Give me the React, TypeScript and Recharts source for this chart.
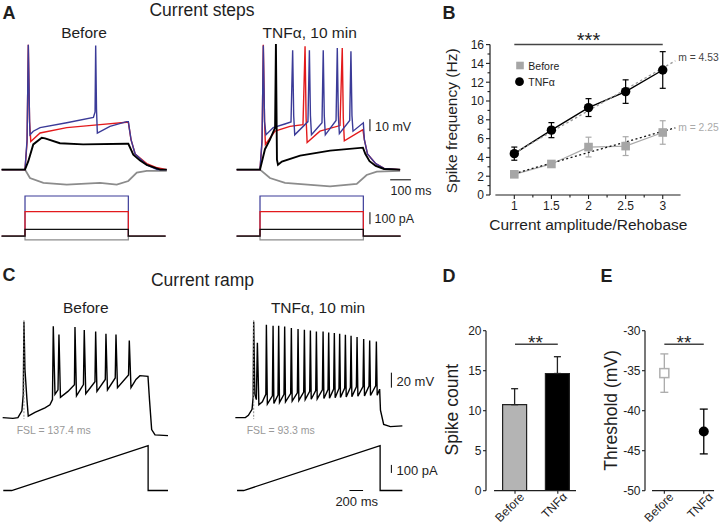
import React from 'react';
import {
  LineChart, Line, XAxis, YAxis, ComposedChart, Bar, Cell, ErrorBar,
  ReferenceLine, ScatterChart, Scatter,
} from 'recharts';

const FONT = "'Liberation Sans', Arial, Helvetica, sans-serif";
const INK = '#1e1e1e';
const BLUE = '#3b3b98';
const RED = '#e31a1c';
const GRAY = '#8c8c8c';

type P = [number, number][];

// ---------- Panel A: current steps (t in ms, v in mV, i in pA) ----------
const stepBeforeGray: P = [[-113,-65],[0,-65],[24,-72],[89,-76],[202,-77.5],[363,-76],[444,-77.5],[500,-74.5],[541,-67.5],[589,-66],[686,-66]];
const stepBeforeRed: P = [[-113,-65],[0,-65],[10,-42],[16,39],[22,-25],[28,-41.5],[73,-34.5],[202,-30],[363,-27.5],[492,-25.5],[500,-25.5],[513,-40],[533,-52],[589,-60],[640,-63.5],[686,-65]];
const stepBeforeBlue: P = [[-113,-65],[0,-65],[10,-40],[16,39],[22,-23],[24,-36],[40,-33],[73,-30],[202,-26],[331,-21.5],[339,-17],[342,38.5],[346,-15],[350,-34.5],[411,-29],[492,-25],[500,-25],[513,-40],[533,-52],[589,-61],[639,-65],[686,-65]];
const stepBeforeBlack: P = [[-113,-65],[0,-65],[16,-58],[40,-44],[81,-38.5],[97,-39],[169,-43],[281,-44],[492,-43.5],[500,-43.5],[524,-52.5],[557,-57.5],[589,-61],[654,-65],[686,-65]];

const stepTnfGray: P = [[-113,-65],[0,-65],[48,-72],[121,-76],[339,-79],[468,-77],[516,-69.5],[565,-66.7],[678,-66]];
const stepTnfRed: P = [[-113,-65],[0,-65],[10,-42],[16,39],[22,-25],[26,-44],[73,-33],[145,-29],[208,-27.5],[218,37.7],[223,-22],[228,-42.5],[290,-33],[387,-28.3],[398,36.4],[403,-22],[408,-41],[498,-31.7],[505,-40],[520,-52],[560,-60],[600,-64],[678,-65]];
const stepTnfBlue: P = [[-113,-65],[0,-65],[10,-40],[16,38.5],[22,-25],[29,-36],[64,-30],[120,-27],[150,-25.3],[158,34.4],[163,-20],[168,-36],[232,-25],[239,34.4],[244,-20],[249,-36],[300,-26],[306,34.4],[311,-20],[316,-36],[368,-24],[374,36.4],[379,-20],[384,-35],[434,-24],[440,33.6],[445,-20],[450,-33],[500,-26],[505,-40],[520,-52],[560,-60],[600,-64],[678,-65]];
const stepTnfBlack: P = [[-113,-65],[0,-65],[24,-48],[48,-40],[73,-30],[77,39.7],[82,-56.7],[87,-61],[106,-58.3],[194,-53.3],[339,-49.2],[498,-46.7],[510,-52],[530,-58],[560,-62],[600,-64.5],[678,-65]];

const stimGray: P = [[-113,0],[0,0],[0,-30],[500,-30],[500,0],[680,0]];
const stimBlack: P = [[-113,0],[0,0],[0,57],[500,57],[500,0],[680,0]];
const stimRed: P = [[-113,0],[0,0],[0,205],[500,205],[500,0],[680,0]];
const stimBlue: P = [[-113,0],[0,0],[0,335],[500,335],[500,0],[680,0]];

const barA10mV: P = [[532,-33],[532,-23]];
const barA100ms: P = [[630,-73.5],[730,-73.5]];
const barA100pA: P = [[532,100],[532,200]];

// ---------- Panel C: current ramp ----------
const rampBeforeV: P = [[-132,-70],[19,-71],[92,-70],[150,-61],[170,-39],[180,58],[195,-6],[224,-46],[243,-68],[341,-63],[488,-57],[561,-53],[598,-46],[610,52],[635,-39],[679,-33],[693,41],[715,-43],[825,-35],[920,-26],[928,51],[950,-41],[1052,-26],[1064,47],[1086,-38],[1221,-22],[1231,45],[1250,-35],[1372,-19],[1382,42],[1404,-33],[1518,-17],[1529,41],[1551,-30],[1713,-13],[1724,33],[1749,-30],[1822,-19],[1880,-14],[1998,-15],[2020,-46],[2052,-86],[2101,-93],[2291,-94]];
const rampTnfV: P = [[-122,-70],[25,-70],[69,-67],[123,-59],[139,-43],[147,58],[164,-39],[186,-46],[201,30],[223,-53],[274,-49],[325,-39],[333,54],[347,-52],
  [421,-41],[431,52.7],[443,-51],[503,-40],[513,52.7],[525,-50],[591,-39],[601,51.7],[613,-49],[689,-38],[699,49.6],[711,-48],[787,-37],[797,48.3],[809,-47],
  [880,-36],[890,47.3],[902,-46],[968,-35],[978,46.4],[990,-45.5],[1056,-34],[1066,45],[1078,-45],[1154,-33],[1164,45],[1176,-44.5],[1236,-32.5],[1246,43.7],[1258,-44],
  [1319,-32],[1329,42.9],[1341,-43.5],[1397,-31],[1407,42],[1419,-43],[1481,-30.5],[1491,40.7],[1503,-42.5],[1564,-30],[1574,39.3],[1586,-42],[1652,-29],[1662,37.6],[1674,-41.5],
  [1749,-28.5],[1759,34.9],[1771,-41],[1837,-28],[1847,33],[1859,-40.5],[1935,-27.5],[1945,31.7],[1957,-40],[1993,-32],[2005,-60],[2052,-79],[2150,-82],[2326,-81]];
const rampBeforeI: P = [[-123,0],[0,0],[2000,560],[2000,0],[2291,0]];
const rampTnfI: P = [[-97,0],[0,0],[2000,560],[2000,0],[2326,0]];
const fslBefore: P = [[180,60],[180,-72]];
const fslTnf: P = [[147,60],[147,-72]];
const barC20mV: P = [[2165,-30],[2165,-10]];
const barC100pA: P = [[2165,220],[2165,320]];
const barC200ms: P = [[1550,0],[1750,0]];

// ---------- Panel B ----------
const stepRatio = [1, 1.5, 2, 2.5, 3];
const freqBefore = [2.2, 3.3, 5.1, 5.2, 6.65];
const freqBeforeSem = [0.15, 0.3, 1.05, 1.0, 1.25];
const freqTnf = [4.4, 6.9, 9.3, 11.0, 13.3];
const freqTnfSem = [0.7, 0.8, 0.95, 1.25, 1.95];
const fitTnf: P = [[1, 4.45], [3.17, 14.28]];
const fitBefore: P = [[1, 2.27], [3.17, 7.15]];
const xTicksB = [1, 1.25, 1.5, 1.75, 2, 2.25, 2.5, 2.75, 3];
const yTicksB = [0, 1, 2, 3, 4, 5, 6, 7, 8, 9, 10, 11, 12, 13, 14, 15, 16];

// ---------- Panels D, E ----------
const groups = ['Before', 'TNFα'];
const spikeCount = [10.75, 14.65];
const spikeCountSem = [2.0, 2.1];
const yTicksD = [0, 5, 10, 15, 20];
const threshold = [-35.3, -42.6];
const thresholdSem = [2.4, 2.8];
const yTicksE = [-50, -45, -40, -35, -30];

const toPts = (p: P) => p.map(([t, y]) => ({ t, y }));

type Tr = { pts: P; color: string; w: number; axis: 'v' | 'i'; dash?: string };

function TraceChart(props: { left: number; top: number; width: number; height: number; xDom: [number, number]; vDom: [number, number]; iDom: [number, number]; traces: Tr[] }) {
  const { left, top, width, height, xDom, vDom, iDom, traces } = props;
  return (
    <div style={{ position: 'absolute', left, top }}>
      <LineChart width={width} height={height} margin={{ top: 0, right: 0, bottom: 0, left: 0 }}>
        <XAxis type="number" dataKey="t" domain={xDom} hide allowDataOverflow height={0} />
        <YAxis yAxisId="v" type="number" domain={vDom} hide allowDataOverflow width={0} />
        <YAxis yAxisId="i" type="number" domain={iDom} hide allowDataOverflow width={0} />
        {traces.map((tr, k) => (
          <Line key={k} yAxisId={tr.axis} data={toPts(tr.pts)} dataKey="y" type="linear" stroke={tr.color}
            strokeWidth={tr.w} strokeDasharray={tr.dash} dot={false} isAnimationActive={false} />
        ))}
      </LineChart>
    </div>
  );
}

function yTick(major: (v: number) => boolean, len: number, minorLen: number, gap: number) {
  return (p: any) => {
    const v = p.payload.value;
    const m = major(v);
    return (
      <g>
        <line x1={p.x} x2={p.x - (m ? len : minorLen)} y1={p.y} y2={p.y} stroke={INK} strokeWidth={1.1} />
        {m && (
          <text x={p.x - gap} y={p.y} dy="0.36em" textAnchor="end" fontSize={12} fontFamily={FONT} fill={INK}>{String(v)}</text>
        )}
      </g>
    );
  };
}

function xTickB(p: any) {
  const v = p.payload.value;
  const m = Math.abs(v * 2 - Math.round(v * 2)) < 1e-6;
  return (
    <g>
      <line x1={p.x} x2={p.x} y1={p.y} y2={p.y + (m ? 4 : 2.5)} stroke={INK} strokeWidth={1.1} />
      {m && <text x={p.x} y={p.y + 14.5} textAnchor="middle" fontSize={12} fontFamily={FONT} fill={INK}>{String(v)}</text>}
    </g>
  );
}

function xTickCat(p: any) {
  const label = groups[Math.round(p.payload.value)] ?? '';
  return (
    <g>
      <line x1={p.x} x2={p.x} y1={p.y} y2={p.y + 3} stroke={INK} strokeWidth={1.1} />
      <text transform={`translate(${p.x + 10},${p.y + 7})`} textAnchor="end" fontSize={12} fontFamily={FONT} fill={INK}>
        <tspan transform="rotate(-45)">{label}</tspan>
      </text>
    </g>
  );
}

function xTickCatRot(p: any) {
  const label = groups[Math.round(p.payload.value)] ?? '';
  return (
    <g>
      <line x1={p.x} x2={p.x} y1={p.y} y2={p.y + 3} stroke={INK} strokeWidth={1.1} />
      <g transform={`translate(${p.x + 10},${p.y + 7}) rotate(-45)`}>
        <text x={0} y={0} textAnchor="end" fontSize={12} fontFamily={FONT} fill={INK}>{label}</text>
      </g>
    </g>
  );
}

type Tx = { s: string; x: number; y: number; fs: number; a?: 'start' | 'middle' | 'end'; fw?: string; fill?: string; rot?: number };
const texts: Tx[] = [
  { s: 'A', x: 2.5, y: 18.5, fs: 18, fw: 'bold' },
  { s: 'Current steps', x: 202, y: 16, fs: 17.5, a: 'middle' },
  { s: 'Before', x: 84, y: 37.5, fs: 15.5, a: 'middle' },
  { s: 'TNFα, 10 min', x: 309.7, y: 37.5, fs: 15.5, a: 'middle' },
  { s: '10 mV', x: 375, y: 130.5, fs: 12.5 },
  { s: '100 ms', x: 411, y: 194.5, fs: 12.5, a: 'middle' },
  { s: '100 pA', x: 374.5, y: 222.5, fs: 12.5 },
  { s: 'B', x: 442.5, y: 18.5, fs: 18, fw: 'bold' },
  { s: '***', x: 588.5, y: 46.5, fs: 20, a: 'middle' },
  { s: 'Before', x: 528.3, y: 69.5, fs: 10.5 },
  { s: 'TNFα', x: 528.3, y: 85.5, fs: 10.5 },
  { s: 'm = 4.53', x: 678.3, y: 60.7, fs: 10.3, fill: '#444' },
  { s: 'm = 2.25', x: 678.3, y: 131, fs: 10.3, fill: '#aaa' },
  { s: 'Spike frequency (Hz)', x: 457, y: 120.8, fs: 15.5, a: 'middle', rot: -90 },
  { s: 'Current amplitude/Rehobase', x: 588.3, y: 229.5, fs: 15.5, a: 'middle' },
  { s: 'C', x: 2.5, y: 281, fs: 18, fw: 'bold' },
  { s: 'Current ramp', x: 202.5, y: 285.5, fs: 17.5, a: 'middle' },
  { s: 'Before', x: 85.8, y: 313, fs: 15.5, a: 'middle' },
  { s: 'TNFα, 10 min', x: 318, y: 313, fs: 15.5, a: 'middle' },
  { s: 'FSL = 137.4 ms', x: 16.7, y: 433.5, fs: 10.5, fill: '#999' },
  { s: 'FSL = 93.3 ms', x: 246.7, y: 433.5, fs: 10.5, fill: '#999' },
  { s: '20 mV', x: 396.5, y: 385.6, fs: 13 },
  { s: '100 pA', x: 396.5, y: 474.5, fs: 13 },
  { s: '200 ms', x: 356.7, y: 506, fs: 13, a: 'middle' },
  { s: 'D', x: 442.5, y: 281.5, fs: 18, fw: 'bold' },
  { s: 'E', x: 600.5, y: 281.5, fs: 18, fw: 'bold' },
  { s: '**', x: 535.5, y: 349, fs: 19, a: 'middle' },
  { s: '**', x: 684, y: 349, fs: 19, a: 'middle' },
  { s: 'Spike count', x: 457.5, y: 409.7, fs: 17.5, a: 'middle', rot: -90 },
  { s: 'Threshold (mV)', x: 617, y: 410.5, fs: 17.5, a: 'middle', rot: -90 },
];

export default function App() {
  const rowsB = stepRatio.map((x, i) => ({ x, b: freqBefore[i], be: freqBeforeSem[i], n: freqTnf[i], ne: freqTnfSem[i] }));
  const rowsD = groups.map((g, i) => ({ x: i, name: g, v: spikeCount[i], e: [0, spikeCountSem[i]] }));
  const rowsE0 = [{ x: 0, y: threshold[0], e: thresholdSem[0] }];
  const rowsE1 = [{ x: 1, y: threshold[1], e: thresholdSem[1] }];

  const stepDom = { xDom: [-121, 750] as [number, number], vDom: [-132, 43] as [number, number], iDom: [-115, 1635] as [number, number] };
  const rampDom = { xDom: [-171, 2350] as [number, number], vDom: [-180, 67] as [number, number], iDom: [-118.5, 2194] as [number, number] };
  const stim: Tr[] = [
    { pts: stimBlue, color: BLUE, w: 1.2, axis: 'i' },
    { pts: stimRed, color: RED, w: 1.2, axis: 'i' },
    { pts: stimGray, color: GRAY, w: 1.2, axis: 'i' },
    { pts: stimBlack, color: '#111', w: 1.2, axis: 'i' },
  ];

  return (
    <div style={{ position: 'absolute', left: 0, top: 0, width: 720, height: 524, background: '#fff', overflow: 'hidden', fontFamily: FONT }}>
      {/* Panel A */}
      <TraceChart left={0} top={40} width={180} height={210} {...stepDom} traces={[
        { pts: stepBeforeGray, color: GRAY, w: 1.8, axis: 'v' },
        { pts: stepBeforeRed, color: RED, w: 1.4, axis: 'v' },
        { pts: stepBeforeBlue, color: BLUE, w: 1.4, axis: 'v' },
        { pts: stepBeforeBlack, color: '#000', w: 1.9, axis: 'v' },
        ...stim,
      ]} />
      <TraceChart left={235} top={40} width={180} height={210} {...stepDom} traces={[
        { pts: stepTnfGray, color: GRAY, w: 1.8, axis: 'v' },
        { pts: stepTnfRed, color: RED, w: 1.4, axis: 'v' },
        { pts: stepTnfBlue, color: BLUE, w: 1.4, axis: 'v' },
        { pts: stepTnfBlack, color: '#000', w: 1.9, axis: 'v' },
        ...stim,
        { pts: barA10mV, color: '#000', w: 1, axis: 'v' },
        { pts: barA100ms, color: '#000', w: 1, axis: 'v' },
        { pts: barA100pA, color: '#000', w: 1, axis: 'i' },
      ]} />

      {/* Panel C */}
      <TraceChart left={0} top={315} width={172} height={185} {...rampDom} traces={[
        { pts: rampBeforeV, color: '#000', w: 1.4, axis: 'v' },
        { pts: fslBefore, color: '#888', w: 1, axis: 'v', dash: '2 1.5' },
        { pts: rampBeforeI, color: '#000', w: 1.3, axis: 'i' },
      ]} />
      <TraceChart left={231.6} top={315} width={172} height={185} {...rampDom} traces={[
        { pts: rampTnfV, color: '#000', w: 1.4, axis: 'v' },
        { pts: fslTnf, color: '#888', w: 1, axis: 'v', dash: '2 1.5' },
        { pts: rampTnfI, color: '#000', w: 1.3, axis: 'i' },
        { pts: barC20mV, color: '#000', w: 1, axis: 'v' },
        { pts: barC100pA, color: '#000', w: 1, axis: 'i' },
        { pts: barC200ms, color: '#000', w: 1, axis: 'i' },
      ]} />

      {/* Panel B */}
      <div style={{ position: 'absolute', left: 440, top: 0 }}>
        <ComposedChart width={243} height={225} data={rowsB} margin={{ top: 44.6, right: 0, bottom: 0, left: 0 }}>
          <XAxis type="number" dataKey="x" domain={[0.6725, 3.273]} allowDataOverflow ticks={xTicksB} interval={0}
            axisLine={false} tickLine={false} tickSize={0} tickMargin={0} height={30} tick={xTickB} />
          <YAxis type="number" domain={[0, 16]} allowDataOverflow ticks={yTicksB} interval={0} width={50}
            axisLine={{ stroke: INK, strokeWidth: 1.2 }} tickLine={false} tickSize={0} tickMargin={0}
            tick={yTick((v) => v % 2 === 0, 4, 2.5, 6)} />
          <ReferenceLine segment={[{ x: 0.745, y: 0 }, { x: 3.24, y: 0 }]} stroke={INK} strokeWidth={1.2} />
          <ReferenceLine segment={[{ x: 1, y: 16 }, { x: 3, y: 16 }]} stroke="#444" strokeWidth={1.5} />
          <Line dataKey="b" type="linear" stroke="#aaa" strokeWidth={1.3} dot={false} isAnimationActive={false}>
            <ErrorBar dataKey="be" direction="y" width={3} stroke="#aaa" strokeWidth={1.2} />
          </Line>
          <Line dataKey="n" type="linear" stroke="#000" strokeWidth={1.4} dot={false} isAnimationActive={false}>
            <ErrorBar dataKey="ne" direction="y" width={3} stroke="#000" strokeWidth={1.2} />
          </Line>
          <Line data={fitTnf.map(([x, y]) => ({ x, f: y }))} dataKey="f" type="linear" stroke="#999" strokeWidth={1.3}
            strokeDasharray="2.5 2.5" dot={false} isAnimationActive={false} />
          <Line data={fitBefore.map(([x, y]) => ({ x, f: y }))} dataKey="f" type="linear" stroke="#111" strokeWidth={1.3}
            strokeDasharray="2 2.5" dot={false} isAnimationActive={false} />
          <Line dataKey="b" type="linear" stroke="none" isAnimationActive={false}
            dot={(p: any) => <rect key={`b${p.index}`} x={p.cx - 4.3} y={p.cy - 4.3} width={8.6} height={8.6} fill="#a6a6a6" />} />
          <Line dataKey="n" type="linear" stroke="none" isAnimationActive={false}
            dot={(p: any) => <circle key={`n${p.index}`} cx={p.cx} cy={p.cy} r={4.7} fill="#000" />} />
        </ComposedChart>
      </div>

      {/* Panel D */}
      <div style={{ position: 'absolute', left: 436, top: 300 }}>
        <ComposedChart width={142} height={224} data={rowsD} margin={{ top: 30.7, right: 0, bottom: 0, left: 0 }}>
          <XAxis type="number" dataKey="x" domain={[-0.678, 1.472]} allowDataOverflow ticks={[0, 1]} interval={0}
            axisLine={false} tickLine={false} tickSize={0} tickMargin={0} height={33.3} tick={xTickCatRot} />
          <YAxis type="number" domain={[0, 20]} allowDataOverflow ticks={yTicksD} interval={0} width={50}
            axisLine={{ stroke: INK, strokeWidth: 1.2 }} tickLine={false} tickSize={0} tickMargin={0}
            tick={yTick(() => true, 3, 3, 4.5)} />
          <ReferenceLine segment={[{ x: -0.49, y: 0 }, { x: 1.425, y: 0 }]} stroke={INK} strokeWidth={1.2} />
          <ReferenceLine segment={[{ x: 0, y: 18.3 }, { x: 1, y: 18.3 }]} stroke="#444" strokeWidth={1.5} />
          <Bar dataKey="v" barSize={24} stroke="#222" strokeWidth={1.2} isAnimationActive={false}>
            <Cell fill="#b4b4b4" />
            <Cell fill="#000" />
            <ErrorBar dataKey="e" direction="y" width={3.5} stroke="#222" strokeWidth={1.3} />
          </Bar>
        </ComposedChart>
      </div>

      {/* Panel E */}
      <div style={{ position: 'absolute', left: 595, top: 300 }}>
        <ScatterChart width={121} height={224} margin={{ top: 30.7, right: 0, bottom: 0, left: 0 }}>
          <XAxis type="number" dataKey="x" domain={[-0.49, 1.31]} allowDataOverflow ticks={[0, 1]} interval={0}
            axisLine={false} tickLine={false} tickSize={0} tickMargin={0} height={33.3} tick={xTickCatRot} />
          <YAxis type="number" dataKey="y" domain={[-50, -30]} allowDataOverflow ticks={yTicksE} interval={0} width={50}
            axisLine={{ stroke: INK, strokeWidth: 1.2 }} tickLine={false} tickSize={0} tickMargin={0}
            tick={yTick(() => true, 3, 3, 4.5)} />
          <ReferenceLine segment={[{ x: -0.312, y: -50 }, { x: 1.26, y: -50 }]} stroke={INK} strokeWidth={1.2} />
          <ReferenceLine segment={[{ x: 0, y: -31.7 }, { x: 1, y: -31.7 }]} stroke="#444" strokeWidth={1.5} />
          <Scatter data={rowsE0} isAnimationActive={false} shape={() => <g />}>
            <ErrorBar dataKey="e" direction="y" width={4} stroke="#aaa" strokeWidth={1.3} />
          </Scatter>
          <Scatter data={rowsE1} isAnimationActive={false} shape={() => <g />}>
            <ErrorBar dataKey="e" direction="y" width={4} stroke="#000" strokeWidth={1.3} />
          </Scatter>
          <Scatter data={rowsE0} isAnimationActive={false}
            shape={(p: any) => <rect x={p.cx - 4.5} y={p.cy - 4.5} width={9} height={9} fill="#fff" stroke="#b0b0b0" strokeWidth={1.5} />} />
          <Scatter data={rowsE1} isAnimationActive={false}
            shape={(p: any) => <circle cx={p.cx} cy={p.cy} r={5} fill="#000" />} />
        </ScatterChart>
      </div>

      {/* Text overlay */}
      <svg width={720} height={524} style={{ position: 'absolute', left: 0, top: 0, pointerEvents: 'none' }}>
        <rect x={516.2} y={61.7} width={7.6} height={7.6} fill="#a6a6a6" />
        <circle cx={519.5} cy={81.7} r={4.4} fill="#000" />
        {texts.map((t, k) => (
          <text key={k}
            x={t.rot ? 0 : t.x} y={t.rot ? 0 : t.y}
            transform={t.rot ? `translate(${t.x},${t.y}) rotate(${t.rot})` : undefined}
            textAnchor={t.a ?? 'start'} fontSize={t.fs} fontWeight={t.fw ?? 'normal'}
            fontFamily={FONT} fill={t.fill ?? INK}>{t.s}</text>
        ))}
      </svg>
    </div>
  );
}
